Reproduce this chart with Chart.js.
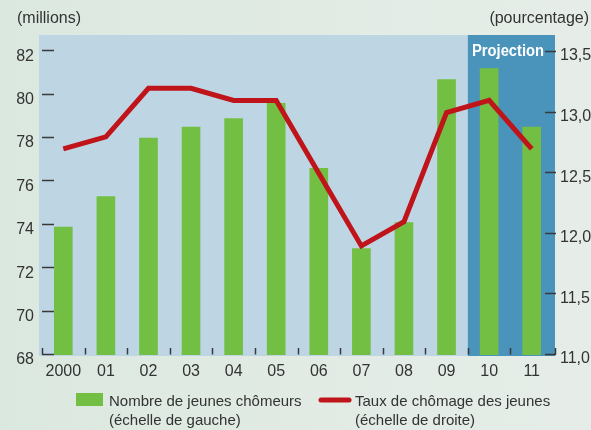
<!DOCTYPE html>
<html>
<head>
<meta charset="utf-8">
<script src="https://cdn.jsdelivr.net/npm/chart.js@4/dist/chart.umd.min.js"></script>
<style>
  html, body { margin: 0; padding: 0; }
  body { width: 591px; height: 430px; overflow: hidden;
         background: linear-gradient(to right, #dbe8df 0%, #e1ebe4 50%, #e6ede8 100%); }
  #c { position: absolute; left: 0; top: 0; }
</style>
</head>
<body>
<canvas id="c" width="591" height="430"></canvas>
<script>
// ---- data ----
const categories = ['2000', '01', '02', '03', '04', '05', '06', '07', '08', '09', '10', '11'];
const youthUnemployed = [73.9, 75.3, 78.0, 78.5, 78.9, 79.6, 76.6, 72.9, 74.1, 80.7, 81.2, 78.5]; // millions, left scale
const youthRate = [12.7, 12.8, 13.2, 13.2, 13.1, 13.1, 12.5, 11.9, 12.1, 13.0, 13.1, 12.7];     // %, right scale
const leftTickValues = [68, 70, 72, 74, 76, 78, 80, 82];
const leftTickLabels = ['68', '70', '72', '74', '76', '78', '80', '82'];
const rightTickValues = [11.0, 11.5, 12.0, 12.5, 13.0, 13.5];
const rightTickLabels = ['11,0', '11,5', '12,0', '12,5', '13,0', '13,5'];
const projectionStartIndex = 10;
const projectionLabel = 'Projection';
const leftUnit = '(millions)';
const rightUnit = '(pourcentage)';
const legendBars = ['Nombre de jeunes chômeurs', '(échelle de gauche)'];
const legendLine = ['Taux de chômage des jeunes', '(échelle de droite)'];

const FONT = '"Liberation Sans", Arial, sans-serif';
const TEXT = '#333333';
const TICK = '#3a3a3a';

const decor = {
  id: 'decor',
  beforeDatasetsDraw(chart) {
    const { ctx, chartArea: a, scales } = chart;
    const x = scales.x, yL = scales.y, yR = scales.y1;
    ctx.save();
    // plot background
    ctx.fillStyle = '#bed6e4';
    ctx.fillRect(a.left - 3, a.top, a.right - a.left + 5, a.bottom - a.top + 1);
    // projection band
    const bx = (x.getPixelForValue(projectionStartIndex - 1) + x.getPixelForValue(projectionStartIndex)) / 2;
    ctx.fillStyle = '#4a93bb';
    ctx.fillRect(bx, a.top, a.right + 2 - bx, a.bottom - a.top + 1);
    // tick marks
    ctx.strokeStyle = TICK;
    ctx.lineWidth = 1.5;
    ctx.beginPath();
    leftTickValues.forEach(v => {
      const py = Math.round(yL.getPixelForValue(v)) - 0.5;
      ctx.moveTo(a.left, py); ctx.lineTo(a.left + 12, py);
    });
    rightTickValues.forEach(v => {
      const py = Math.round(yR.getPixelForValue(v)) - 0.5;
      ctx.moveTo(a.right - 8, py); ctx.lineTo(a.right + 3, py);
    });
    for (let i = -1; i < categories.length; i++) {
      let px;
      if (i === -1) px = a.left;
      else if (i === categories.length - 1) px = a.right + 2;
      else px = (x.getPixelForValue(i) + x.getPixelForValue(i + 1)) / 2;
      px = Math.round(px) + 0.5;
      ctx.moveTo(px, a.bottom - 7); ctx.lineTo(px, a.bottom - 0.5);
    }
    ctx.stroke();
    ctx.restore();
  },
  afterDraw(chart) {
    const { ctx, chartArea: a, scales } = chart;
    const x = scales.x, yL = scales.y, yR = scales.y1;
    ctx.save();
    ctx.fillStyle = TEXT;
    ctx.font = '16px ' + FONT;
    ctx.textBaseline = 'middle';
    // left labels
    ctx.textAlign = 'right';
    leftTickValues.forEach((v, i) => ctx.fillText(leftTickLabels[i], 34, yL.getPixelForValue(v) + 5));
    // right labels
    ctx.textAlign = 'left';
    rightTickValues.forEach((v, i) => ctx.fillText(rightTickLabels[i], 560, yR.getPixelForValue(v) + 4));
    // category labels
    ctx.textAlign = 'center';
    categories.forEach((c, i) => ctx.fillText(c, x.getPixelForValue(i), 372));
    // units
    ctx.textBaseline = 'alphabetic';
    ctx.textAlign = 'left';
    ctx.fillText(leftUnit, 17, 23);
    ctx.textAlign = 'right';
    ctx.fillText(rightUnit, 589, 23);
    // projection label (condensed bold)
    ctx.fillStyle = '#ffffff';
    ctx.font = 'bold 16px ' + FONT;
    ctx.textAlign = 'center';
    ctx.textBaseline = 'middle';
    const bx = (x.getPixelForValue(projectionStartIndex - 1) + x.getPixelForValue(projectionStartIndex)) / 2;
    const w = ctx.measureText(projectionLabel).width;
    const sx = Math.min(1, 72 / w);
    ctx.save();
    ctx.translate(508, 52);
    ctx.scale(sx, 1);
    ctx.fillText(projectionLabel, 0, 0);
    ctx.restore();
    // legend
    ctx.fillStyle = '#72bf44';
    ctx.fillRect(76, 393, 27, 13);
    ctx.strokeStyle = '#c0141b';
    ctx.lineWidth = 5;
    ctx.lineCap = 'round';
    ctx.beginPath(); ctx.moveTo(321, 400); ctx.lineTo(349, 400); ctx.stroke();
    ctx.fillStyle = TEXT;
    ctx.font = '15px ' + FONT;
    ctx.textAlign = 'left';
    ctx.textBaseline = 'alphabetic';
    ctx.fillText(legendBars[0], 109, 406);
    ctx.fillText(legendBars[1], 109, 425);
    ctx.fillText(legendLine[0], 355, 406);
    ctx.fillText(legendLine[1], 355, 425);
    ctx.restore();
  }
};

new Chart(document.getElementById('c'), {
  type: 'bar',
  data: {
    labels: categories,
    datasets: [
      {
        type: 'line', data: youthRate, yAxisID: 'y1', order: 0,
        borderColor: '#c0141b', borderWidth: 5, pointRadius: 0, tension: 0,
        borderJoinStyle: 'miter', borderCapStyle: 'butt', fill: false
      },
      {
        type: 'bar', data: youthUnemployed, yAxisID: 'y', order: 1,
        backgroundColor: '#72bf44', borderWidth: 0, barThickness: 18
      }
    ]
  },
  options: {
    responsive: false,
    animation: false,
    events: [],
    layout: { padding: { left: 42, right: 38, top: 35, bottom: 75 } },
    plugins: { legend: { display: false }, tooltip: { enabled: false } },
    scales: {
      x: { display: false, offset: true },
      y: { display: false, min: 68, max: 82.75 },
      y1: { display: false, position: 'right', min: 11, max: 13.64 }
    }
  },
  plugins: [decor]
});
</script>
</body>
</html>
